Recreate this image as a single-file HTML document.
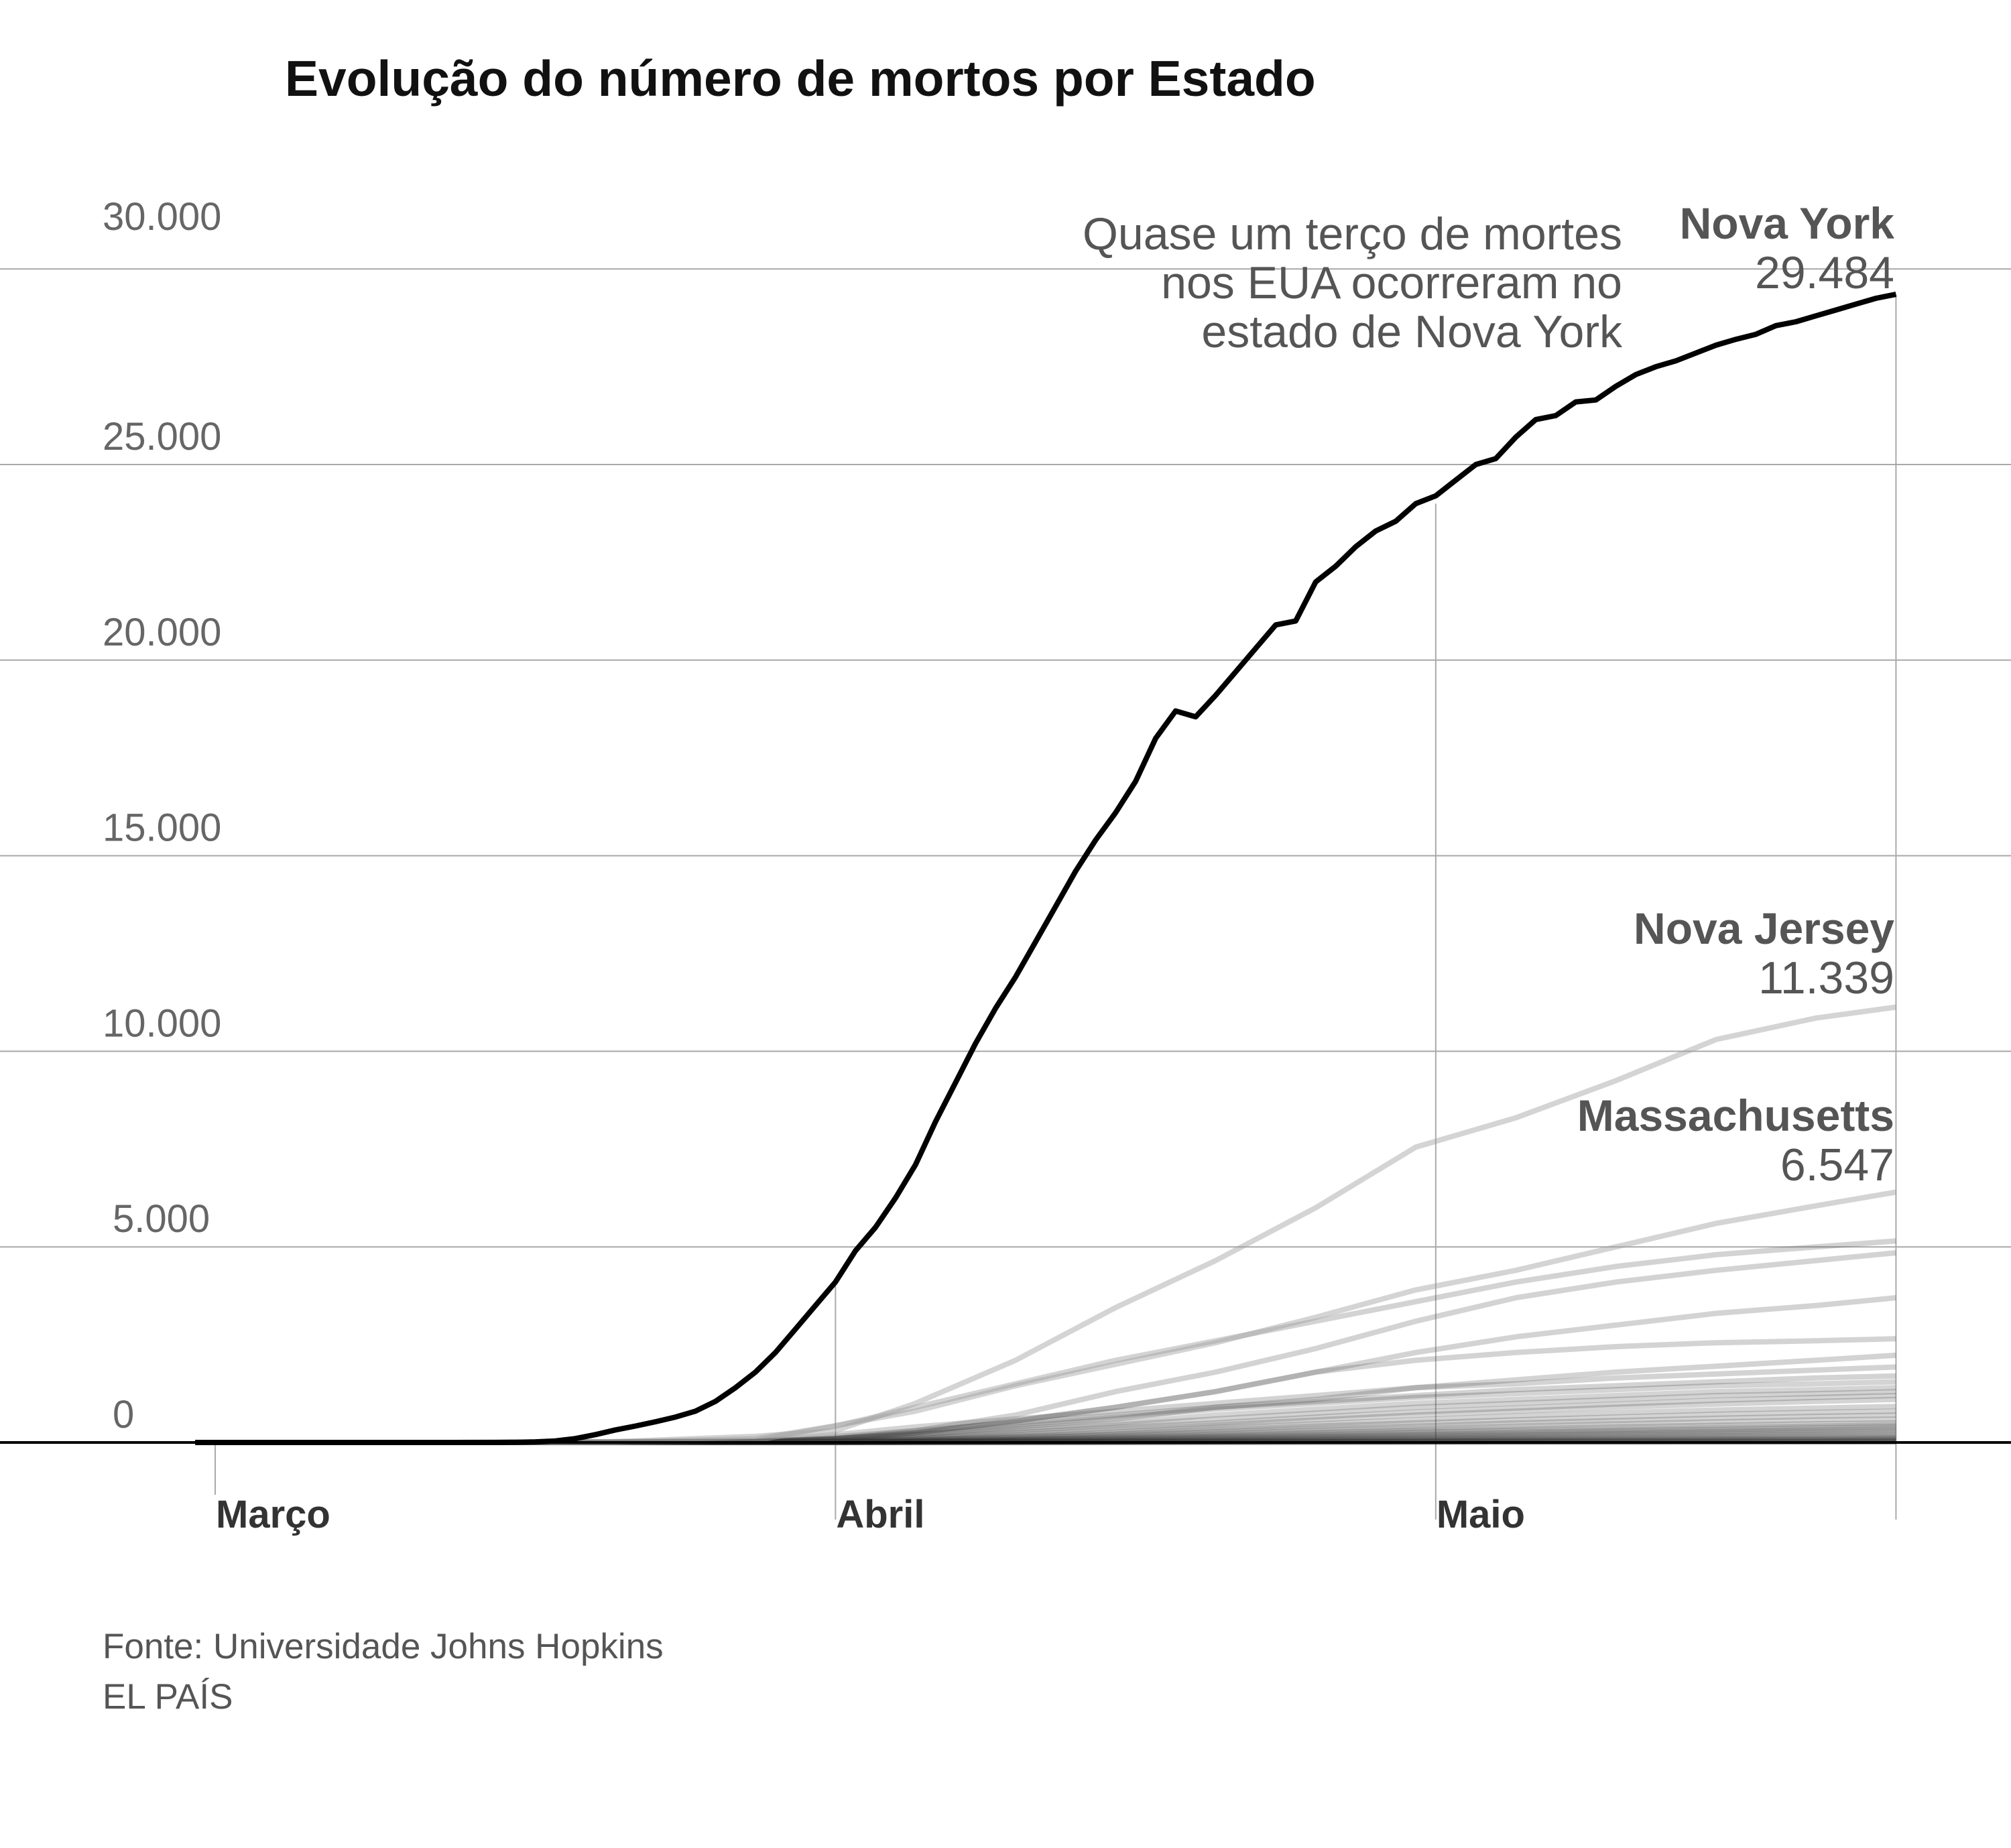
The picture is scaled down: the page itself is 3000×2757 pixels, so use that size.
<!DOCTYPE html>
<html><head><meta charset="utf-8">
<style>
html,body{margin:0;padding:0;background:#fff;}
body{width:3000px;height:2752px;overflow:hidden;font-family:"Liberation Sans",sans-serif;}
svg text{font-family:"Liberation Sans",sans-serif;}
</style></head>
<body>
<svg id="chart" width="3000" height="2752" viewBox="0 0 3000 2752">
<text x="425" y="143" font-size="75" font-weight="bold" fill="#111">Evolução do número de mortos por Estado</text>
<g id="grid"></g>
<g id="vlines"></g>
<g id="minor"></g>
<g id="major"></g>
<g id="labels">
<text x="2420" y="372" font-size="68" fill="#555" text-anchor="end">Quase um terço de mortes</text>
<text x="2420" y="445" font-size="68" fill="#555" text-anchor="end">nos EUA ocorreram no</text>
<text x="2420" y="518" font-size="68" fill="#555" text-anchor="end">estado de Nova York</text>
<text x="2826" y="356" font-size="66" font-weight="bold" fill="#555" text-anchor="end">Nova York</text>
<text x="2826" y="430" font-size="68" fill="#555" text-anchor="end">29.484</text>
<text x="2826" y="1408" font-size="66" font-weight="bold" fill="#555" text-anchor="end">Nova Jersey</text>
<text x="2826" y="1482" font-size="68" fill="#555" text-anchor="end">11.339</text>
<text x="2826" y="1687" font-size="66" font-weight="bold" fill="#555" text-anchor="end">Massachusetts</text>
<text x="2826" y="1761" font-size="68" fill="#555" text-anchor="end">6.547</text>
</g>
<g id="xlabels"></g>
<text x="153" y="2474" font-size="53" fill="#555">Fonte: Universidade Johns Hopkins</text>
<text x="153" y="2549" font-size="53" fill="#555">EL PAÍS</text>
</svg>
<script>
const yTicks = [0,5000,10000,15000,20000,25000,30000];
const yTickLabels = ["0","5.000","10.000","15.000","20.000","25.000","30.000"];
const months = ["Março","Abril","Maio"];
const monthDays = [0,31,61];
const endDay = 84;
const nyStartDay = -1;
const nyValues = [0,0,0,0,0,0,0,0,0,0,0,0,0,0,0,0,5,15,40,100,200,320,420,530,650,800,1050,1400,1800,2300,2900,3500,4100,4900,5500,6250,7100,8200,9200,10200,11100,11900,12800,13700,14600,15400,16100,16900,18000,18700,18550,19100,19700,20300,20900,21000,22000,22400,22900,23300,23550,24000,24200,24600,25000,25150,25700,26150,26250,26600,26650,27000,27300,27500,27650,27850,28050,28200,28330,28550,28650,28800,28950,29100,29250,29350];
const sampleDays = [20,27,31,35,40,45,50,55,60,65,70,75,80,84];
const njValues = [20,160,300,1000,2100,3450,4650,6000,7550,8300,9250,10300,10850,11130];
const maValues = [5,50,430,800,1450,2000,2550,3200,3900,4400,5000,5600,6050,6400];
const miValues = [10,100,420,900,1500,2100,2600,3100,3600,4100,4500,4800,5000,5150];
const paValues = [2,20,100,300,700,1300,1800,2400,3100,3700,4100,4400,4650,4850];
const ilValues = [2,20,100,250,550,900,1300,1800,2300,2700,3000,3300,3500,3700];
const ctValues = [1,20,80,250,550,900,1300,1800,2100,2300,2450,2550,2600,2650];
const caValues = [20,30,100,200,400,600,900,1100,1400,1600,1800,1950,2100,2230];
const laValues = [5,40,200,400,600,800,1000,1200,1400,1500,1650,1750,1850,1930];
const minorSeries = [
 miValues, paValues, ilValues, ctValues, caValues, laValues,
 [5,30,150,300,500,700,900,1050,1200,1350,1450,1550,1650,1700],
 [3,20,100,250,450,650,850,1000,1150,1250,1350,1450,1500,1550],
 [2,15,80,200,350,500,700,850,1000,1100,1200,1300,1350,1400],
 [2,10,60,150,300,450,600,750,900,1000,1100,1200,1250,1300],
 [1,10,50,120,250,380,500,650,780,880,980,1080,1150,1200],
 [1,8,40,100,200,320,450,580,700,800,900,980,1050,1100],
 [1,6,30,80,160,260,380,480,580,680,760,830,880,920],
 [1,5,25,70,140,220,320,420,500,580,650,720,770,800],
 [0,4,20,60,120,190,270,350,420,500,560,620,670,700],
 [0,3,15,50,100,160,230,300,360,420,480,530,580,600],
 [0,3,12,40,80,130,190,250,300,350,400,440,480,500],
 [0,2,10,35,70,110,160,210,260,300,340,380,420,450],
 [0,2,8,30,60,95,140,180,220,260,300,330,370,400],
 [0,2,6,25,50,80,120,160,190,220,260,290,320,350],
 [0,1,5,20,40,65,100,130,160,190,220,250,280,300],
 [0,1,4,15,30,55,80,110,135,160,190,210,235,250],
 [0,1,3,12,25,45,65,90,110,130,150,170,190,200],
 [0,1,2,10,20,35,50,70,85,100,115,130,145,150],
 [0,0,2,8,15,25,40,55,65,80,90,100,110,120],
 [0,0,1,6,12,20,30,40,50,60,70,80,90,100],
 [0,0,1,5,10,16,24,32,40,48,56,64,72,80],
 [0,0,1,4,8,12,18,24,30,36,42,48,55,60],
 [0,0,0,3,6,9,13,18,22,27,32,36,40,45],
 [0,0,0,2,4,6,9,12,15,18,21,24,27,30],
 [0,0,0,1,2,4,6,8,10,12,14,16,18,20],
 [0,0,0,1,1,2,3,4,5,6,7,8,9,10]
];
const NS='http://www.w3.org/2000/svg';
const y0=2152, yPer=291.8/5000, x0=321, dayW=29.85;
function yS(v){return y0 - v*yPer;}
function xS(d){return x0 + d*dayW;}
function mk(tag,attrs,parent){const e=document.createElementNS(NS,tag);for(const k in attrs)e.setAttribute(k,attrs[k]);parent.appendChild(e);return e;}
const grid=document.getElementById('grid');
yTicks.forEach((t,i)=>{
  if(t===0) return;
  const l=mk('line',{x1:0,x2:3000,y1:yS(t),y2:yS(t),stroke:'#a8a8a8','stroke-width':2},grid);
  
  
});
yTicks.forEach((t,i)=>{
  const off = (t===30000) ? 58 : 22;
  const lx = (t>=10000) ? 153 : 168;
  const tx=mk('text',{x:lx,y:yS(t)-off,'font-size':58,fill:'#666'},grid);
  tx.textContent=yTickLabels[i];
  
  
});
const vl=document.getElementById('vlines');
const vTops=[yS(0),yS(4000),yS(24000),yS(nyValues[nyValues.length-1])];
[...monthDays,endDay].forEach((d,i)=>{
  const l=mk('line',{x1:xS(d),x2:xS(d),y1:vTops[i],y2:i===0?yS(0)+78:yS(0)+115,stroke:'#aaa','stroke-width':2},vl);
  
  
});
const xl=document.getElementById('xlabels');
months.forEach((m,i)=>{
  const t=mk('text',{x:xS(monthDays[i])+1,y:2279,'font-size':58,'font-weight':'bold',fill:'#333'},xl);
  t.textContent=m;
  
  
});
const minor=document.getElementById('minor');
function sampledPath(vals){
  let p='M'+xS(sampleDays[0]-8)+' '+yS(0);
  vals.forEach((v,i)=>{p+=' L'+xS(sampleDays[i]).toFixed(1)+' '+yS(v).toFixed(1);});
  return p;
}
minorSeries.forEach((s,i)=>{
  const p=mk('path',{d:sampledPath(s),fill:'none',stroke:i<6||i%3===0?'rgba(80,80,80,0.25)':'rgba(40,40,40,0.2)','stroke-width':8,'stroke-linejoin':'round'},minor);
  
  
});
const major=document.getElementById('major');
[njValues,maValues].forEach((s,i)=>{
  const p=mk('path',{d:sampledPath(s),fill:'none',stroke:'rgba(160,160,160,0.45)','stroke-width':8,'stroke-linejoin':'round'},major);
  
  
});
const base=mk('line',{x1:0,x2:3000,y1:yS(0),y2:yS(0),stroke:'#000','stroke-width':4},major);


let d='';
nyValues.forEach((v,i)=>{d+=(i?' L':'M')+xS(nyStartDay+i).toFixed(1)+' '+yS(v).toFixed(1);});
const ny=mk('path',{d:d,fill:'none',stroke:'#000','stroke-width':8,'stroke-linejoin':'round'},major);


</script>
</body></html>
